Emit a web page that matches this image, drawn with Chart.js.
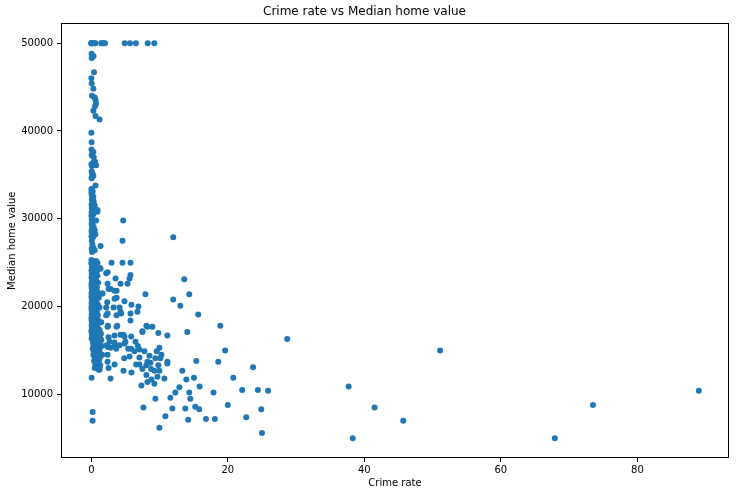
<!DOCTYPE html>
<html>
<head>
<meta charset="utf-8">
<script src="https://cdn.jsdelivr.net/npm/chart.js@4"></script>
<style>
  body { margin: 0; background: #fff; }
  #chart { display: block; }
</style>
</head>
<body>
<canvas id="chart" width="736" height="496"></canvas>
<script>
// tracts at the 50000 cap
const crimeTop = [0.014, 0.02, 0.051, 0.061, 0.015, 0.527, 0.578, 1.463, 1.519, 1.834, 2.01, 4.898, 5.67, 6.539, 8.267, 9.232];
const valueTop = [50000, 50000, 50000, 50000, 50000, 50000, 50000, 50000, 50000, 50000, 50000, 50000, 50000, 50000, 50000, 50000];

// low crime column (crime rate under ~1.5)
const crimeLow = [
  0.035, 0.33, 0.05, 0.4, 0.01, 0.06, 0.3, 0.1, 0.5, 0.62,
  0.7, 0.55, 0.3, 0.62, 1.22, 0.01, 0.05, 0.03, 0.3, 0.06,
  0.1, 0.35, 0.55, 0.3, 0.02, 0.7, 0.09, 0.05, 0.1, 0.2,
  0.3, 0.06, 0.05, 0.62, 0.02, 0.1, 0.05, 0.2, 0.03, 0.1,
  0.05, 0.3, 0.15, 0.08, 0.35, 0.1, 0.05, 0.5, 0.08, 0.15,
  0.9, 0.9, 0.05, 0.3, 0.02, 0.1, 0.06, 0.7, 0.2, 0.04,
  0.35, 0.1, 0.5, 0.03, 0.2, 0.08, 0.6, 0.12, 0.04, 0.25,
  0.07, 0.15, 1.36, 0.3, 0.06, 0.5, 0.1, 0.02, 0.7, 0.3,
  0.05, 0.9, 0.15, 0.4, 1.27, 0.08, 0.6, 0.25, 0.03, 0.8,
  0.12, 0.45, 0.06, 0.3, 0.9, 0.2, 0.04, 0.55, 0.1, 0.7,
  0.35, 0.08, 1.0, 0.15, 0.5, 0.03, 0.25, 0.8, 0.06, 0.4,
  0.12, 0.65, 0.2, 0.05, 0.9, 0.3, 0.1, 0.55, 0.02, 1.1,
  0.18, 0.45, 0.07, 0.7, 0.3, 0.04, 0.85, 0.15, 0.5, 0.09,
  1.2, 0.25, 0.6, 0.03, 0.35, 0.8, 0.12, 0.5, 0.06, 0.95,
  0.2, 0.4, 0.02, 0.7, 0.15, 1.0, 0.3, 0.08, 0.55, 0.2,
  0.9, 0.05, 0.4, 0.65, 0.1, 1.1, 0.3, 0.75, 0.04, 0.5,
  0.2, 0.85, 0.1, 0.6, 0.35, 1.3, 0.15, 0.7, 0.45, 0.9,
  0.25, 0.6, 1.1, 0.3, 0.8, 0.5, 0.95, 0.2, 0.7, 1.2,
  0.4, 0.85, 0.6, 1.0, 0.3, 0.75, 1.3, 0.5, 0.9, 0.65,
  1.15, 0.4, 0.8, 1.0, 0.6, 1.3, 0.9, 0.5, 1.1, 0.05,
  0.19, 0.19,
  0.02, 0.5, 0.1, 0.35, 0.7, 0.15, 0.4, 0.05, 0.6, 0.2,
  0.85, 0.05, 0.4, 0.15, 0.6, 0.25, 0.02, 0.45, 0.1, 0.7,
  0.3, 0.05, 0.6, 0.15, 0.35, 0.02, 0.55, 0.25, 0.05, 0.4
];
const valueLow = [
  48800, 48500, 48300, 46700, 46000, 45400, 44800, 44000, 43800, 43500,
  43100, 42800, 42300, 41700, 41300, 39800, 38700, 37900, 37600, 37300,
  37200, 37000, 36500, 36400, 36200, 36100, 36000, 35400, 35200, 35100,
  34900, 34700, 34600, 33800, 33400, 33300, 33200, 33100, 33000, 32900,
  32700, 32500, 32400, 32200, 32000, 31700, 31600, 31500, 31200, 31100,
  31000, 30800, 30700, 30500, 30300, 30100, 29900, 29800, 29600, 29400,
  29100, 29000, 28700, 28600, 28500, 28400, 28200, 28100, 28000, 27900,
  27500, 27100, 26900, 26700, 26600, 26400, 26200, 25300, 25200, 25100,
  25000, 25000, 24800, 24700, 24400, 24500, 24400, 24300, 24100, 24000,
  23900, 23800, 23700, 23600, 23500, 23400, 23300, 23200, 23100, 23000,
  22900, 22800, 22700, 22600, 22500, 22400, 22300, 22200, 22100, 22000,
  21900, 21800, 21700, 21600, 21500, 21400, 21300, 21200, 21100, 21000,
  20900, 20800, 20700, 20600, 20500, 20400, 20300, 20200, 20100, 20000,
  19900, 19800, 19700, 19600, 19500, 19400, 19300, 19200, 19100, 19000,
  18900, 18800, 18700, 18600, 18500, 18400, 18300, 18200, 18100, 18000,
  17900, 17800, 17700, 17600, 17500, 17400, 17300, 17200, 17100, 17000,
  16900, 16800, 16700, 16600, 16500, 16400, 16300, 16200, 16100, 16000,
  15900, 15800, 15700, 15600, 15500, 15400, 15300, 15200, 15100, 15000,
  14900, 14800, 14700, 14600, 14500, 14400, 14300, 14200, 14100, 14000,
  13900, 13800, 13600, 13500, 13400, 13300, 13100, 13000, 12800, 11900,
  8000, 7000,
  24900, 24600, 24200, 23950, 23650, 23250, 22950, 22650, 22350, 22050,
  21750, 21450, 21150, 20850, 20550, 20250, 19950, 19650, 19350, 19050,
  18750, 18450, 18150, 17850, 17550, 17250, 16950, 16650, 16350, 16050
];

// middle band (crime rate ~1 to 16)
const crimeMid = [
  4.67, 4.57, 12.0, 2.96, 4.57, 5.74, 1.36, 2.38, 5.74, 5.6,
  3.55, 13.62, 4.28, 2.38, 5.3, 2.82, 3.7, 1.65, 7.93, 14.35,
  3.7, 12.0, 4.86, 13.04, 3.26, 4.13, 5.88, 6.9, 4.28, 6.76,
  2.38, 3.7, 15.66,
  2.19, 2.53, 3.4, 1.56, 3.4, 2.34, 0.97, 2.19, 4.38, 5.74,
  2.19, 1.46, 2.43, 3.8, 7.49, 8.07, 1.21, 4.67, 3.4, 5.84,
  2.53, 1.46, 3.4, 4.86, 2.43, 3.65, 5.84, 6.82, 1.56,
  2.38, 3.7, 5.74, 8.22, 8.95, 7.49, 9.82, 11.14, 14.06, 1.41,
  4.28, 4.86, 5.01, 6.47, 2.68, 2.24, 3.41, 4.14, 2.82, 5.4,
  6.33, 7.05, 7.78, 9.97, 9.59, 8.52, 10.27, 0.97, 1.6, 2.38,
  4.82, 5.6, 7.05, 9.39, 10.12, 11.14, 11.14, 15.38, 2.38, 3.41,
  6.57, 7.05, 8.22, 8.66, 8.07, 9.82, 1.21, 2.53, 4.72, 5.88,
  7.49, 8.76, 9.24, 9.97, 13.33, 1.21, 2.82, 8.07, 9.68, 8.81,
  8.22, 9.24, 10.7, 13.92, 15.04, 12.9, 12.31, 11.58, 14.35, 14.5,
  15.87, 7.34, 9.39, 7.64, 11.87, 13.77, 15.23, 15.81, 10.85, 14.2,
  9.97
];
const valueMid = [
  29800, 27500, 27900, 25000, 25000, 25000, 24300, 23900, 23600, 23200,
  23200, 23100, 22600, 22600, 22600, 22000, 21800, 21500, 21400, 21400,
  21000, 20800, 20600, 20100, 19900, 19900, 20200, 20000, 19400, 19400,
  19200, 19000, 19100,
  23800, 22000, 21800, 21500, 20900, 20500, 20200, 19900, 19200, 19200,
  19000, 18200, 17800, 17800, 17200, 17800, 17300, 16800, 16700, 16600,
  16500, 16200, 15900, 15800, 15400, 15200, 15200, 15500, 15500,
  17700, 17700, 18400, 17700, 17700, 17100, 17000, 16700, 17100, 16900,
  16800, 16600, 16000, 16000, 16000, 15600, 15600, 15600, 15300, 15200,
  14900, 15100, 14900, 15300, 14900, 14400, 14500, 14600, 14500, 14500,
  14100, 14300, 14200, 14100, 14100, 13700, 13500, 13800, 13700, 13400,
  13400, 13400, 13700, 13600, 13300, 13300, 13100, 13000, 12700, 12500,
  12900, 12900, 12700, 12700, 12700, 12800, 11800, 12200, 12000, 11700,
  11400, 11200, 11800, 11700, 11900, 10800, 10200, 9600, 10200, 9500,
  10900, 11000, 9500, 8500, 8400, 8400, 8600, 8300, 7500, 7100,
  6200
];

// high crime tracts
const crimeHigh = [
  18.9, 28.7, 19.6, 18.6, 23.7, 20.8, 37.7, 17.9, 22.1, 24.4,
  25.9, 20.0, 24.9, 41.5, 45.7, 16.8, 18.1, 22.7, 25.0, 38.3,
  51.1, 67.9, 73.5, 89.0
];
const valueHigh = [
  17800, 16300, 15000, 13700, 13100, 11900, 10900, 10200, 10500, 10500,
  10400, 8800, 8300, 8500, 7000, 7200, 7200, 7400, 5600, 5000,
  15000, 5000, 8800, 10400
];

const xTicks = [0, 20, 40, 60, 80];
const yTicks = [10000, 20000, 30000, 40000, 50000];

const crimeRate = [].concat(crimeTop, crimeLow, crimeMid, crimeHigh);
const homeValue = [].concat(valueTop, valueLow, valueMid, valueHigh);

const points = crimeRate.map((c, i) => ({ x: c, y: homeValue[i] }));

const font = { family: 'DejaVu Sans', size: 10 };

const framePlugin = {
  id: 'frame',
  afterDraw(chart) {
    const a = chart.chartArea;
    const ctx = chart.ctx;
    ctx.save();
    ctx.strokeStyle = '#000';
    ctx.lineWidth = 1;
    ctx.strokeRect(Math.round(a.left) + 0.5, Math.round(a.top) + 0.5,
      Math.round(a.right - a.left) - 1, Math.round(a.bottom - a.top) - 1);
    ctx.restore();
  }
};

new Chart(document.getElementById('chart'), {
  type: 'scatter',
  data: {
    datasets: [{
      data: points,
      backgroundColor: '#1f77b4',
      borderWidth: 0,
      pointRadius: 3,
      pointHoverRadius: 3
    }]
  },
  options: {
    responsive: false,
    animation: false,
    events: [],
    layout: { padding: { left: 0, right: 7, top: 0, bottom: 0 } },
    plugins: {
      legend: { display: false },
      tooltip: { enabled: false },
      title: {
        display: true,
        text: 'Crime rate vs Median home value',
        color: '#000',
        font: { family: 'DejaVu Sans', size: 12, weight: 'normal' },
        padding: { top: 5, bottom: 4 }
      }
    },
    scales: {
      x: {
        type: 'linear',
        min: -4.44,
        max: 93.42,
        afterBuildTicks: s => { s.ticks = xTicks.map(v => ({ value: v })); },
        afterFit: s => { s.height = 38; },
        border: { display: false },
        grid: { display: true, drawOnChartArea: false, drawTicks: true, tickLength: 4, color: '#000' },
        ticks: { color: '#000', font, padding: 2, maxRotation: 0 },
        title: { display: true, text: 'Crime rate', color: '#000', font, padding: { top: 0, bottom: 7 } }
      },
      y: {
        type: 'linear',
        min: 2750,
        max: 52250,
        afterBuildTicks: s => { s.ticks = yTicks.map(v => ({ value: v })); },
        afterFit: s => { s.width = 61; },
        border: { display: false },
        grid: { display: true, drawOnChartArea: false, drawTicks: true, tickLength: 4, color: '#000' },
        ticks: { color: '#000', font, padding: 4, callback: v => String(v) },
        title: { display: true, text: 'Median home value', color: '#000', font, padding: { top: 6, bottom: 0 } }
      }
    }
  },
  plugins: [framePlugin]
});
</script>
</body>
</html>
